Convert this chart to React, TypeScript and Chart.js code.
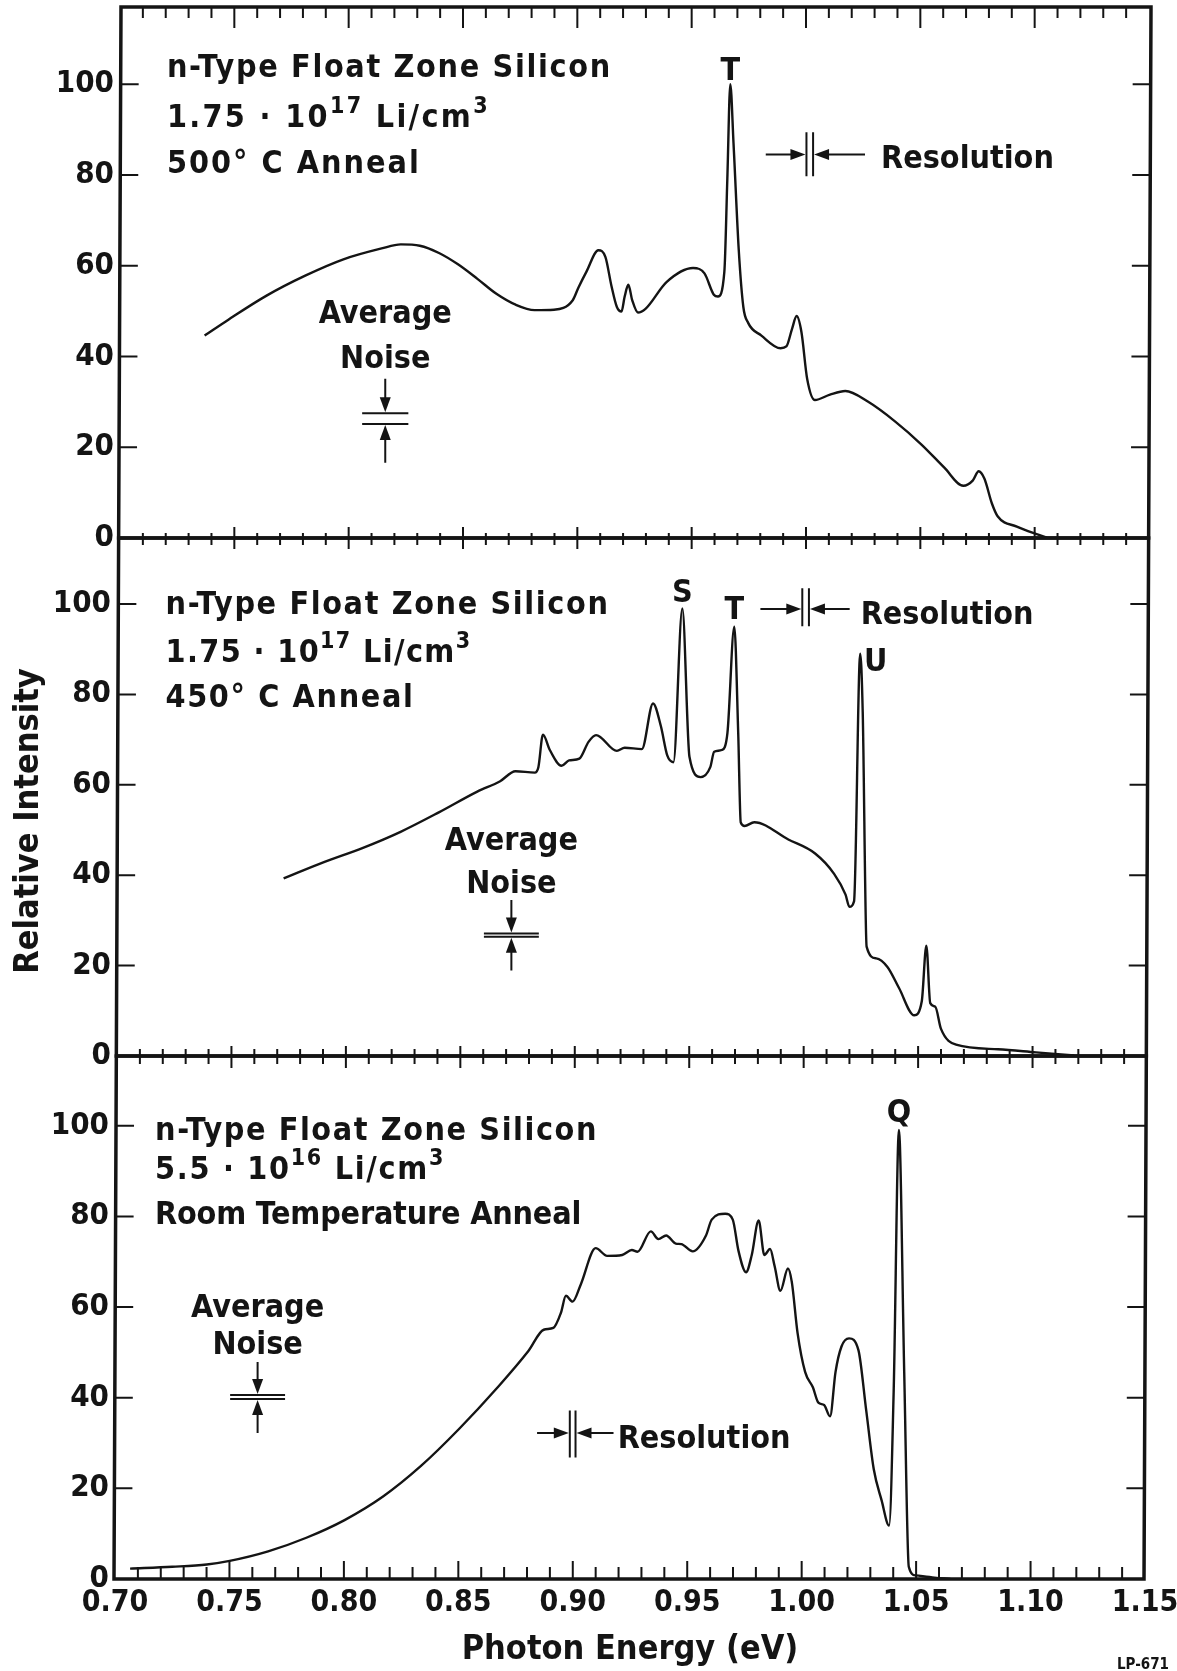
import { useEffect, useRef } from 'react';
import { Chart, registerables } from 'chart.js';

Chart.register(...registerables);

const FONT = "'DejaVu Sans Condensed', 'DejaVu Sans', sans-serif";
const WEIGHT = 'bold';
const INK = '#141414';

// ---- axes ----
const ENERGY_MIN = 0.7;
const ENERGY_MAX = 1.15;
const ENERGY_LABELS = [0.7, 0.75, 0.8, 0.85, 0.9, 0.95, 1.0, 1.05, 1.1, 1.15];
const INTENSITY_LABELS = [0, 20, 40, 60, 80, 100];

// ---- 1.75e17 Li/cm3, 500 °C anneal ----
const energy500 = [
  0.737, 0.7474, 0.7641, 0.781, 0.7977, 0.8144, 0.8228, 0.8311, 0.8395, 0.8478,
  0.8563, 0.8646, 0.873, 0.8813, 0.8898, 0.898, 0.9005, 0.904, 0.9092, 0.9123,
  0.9149, 0.9173, 0.9193, 0.9207, 0.9223, 0.924, 0.9265, 0.9298, 0.939, 0.9506,
  0.9556, 0.9597, 0.9615, 0.9643, 0.9656, 0.9669, 0.9683, 0.9706, 0.9726, 0.9747,
  0.9805, 0.9889, 0.9914, 0.9939, 0.9959, 0.998, 1.0005, 1.0039, 1.0105, 1.0172,
  1.0272, 1.0389, 1.0505, 1.0605, 1.0688, 1.073, 1.0755, 1.078, 1.0813, 1.0838,
  1.0922, 1.1005, 1.1054,
];
const intensity500 = [
  44.6, 48.1, 53.4, 57.8, 61.4, 63.8, 64.7, 64.4, 62.8, 60.3,
  57.1, 53.8, 51.4, 50.2, 50.3, 52.4, 55.2, 58.7, 63.4, 61.9,
  55.6, 50.9, 49.9, 53.2, 55.8, 52.4, 49.7, 50.5, 56.4, 59.5,
  58.3, 53.6, 53.2, 58.7, 79.2, 100, 87, 63.4, 50.9, 47.4,
  44.6, 41.8, 42.2, 46.1, 48.9, 45.4, 35.1, 30.4, 31.6, 32.4,
  30.0, 25.7, 20.6, 15.5, 11.5, 12.7, 14.7, 13.1, 7.6, 4.8,
  2.5, 0.9, 0.1,
];

// ---- 1.75e17 Li/cm3, 450 °C anneal ----
const energy450 = [
  0.7728, 0.7904, 0.8072, 0.8239, 0.8406, 0.8574, 0.8674, 0.8741, 0.8825, 0.8841,
  0.8861, 0.8891, 0.8942, 0.8975, 0.902, 0.906, 0.9093, 0.9184, 0.9218, 0.9293,
  0.9342, 0.9376, 0.9404, 0.9431, 0.947, 0.9501, 0.955, 0.9592, 0.9609, 0.9642,
  0.9667, 0.9697, 0.9714, 0.9725, 0.9742, 0.9784, 0.9933, 1.005, 1.0133, 1.0183,
  1.02, 1.022, 1.0247, 1.0258, 1.0275, 1.0317, 1.0366, 1.0416, 1.0483, 1.0516,
  1.0536, 1.0553, 1.0575, 1.06, 1.0666, 1.0849, 1.1015, 1.1182,
];
const intensity450 = [
  39.3, 42.9, 46.0, 49.6, 53.9, 58.5, 60.8, 63.0, 62.7, 63.9,
  71.1, 67.7, 64.2, 65.4, 65.8, 69.5, 71.0, 67.5, 68.2, 67.9,
  78.0, 73.0, 66.5, 65.0, 99.0, 66.2, 61.7, 63.9, 67.3, 67.7,
  71.5, 95.0, 71.5, 51.7, 50.9, 51.7, 47.9, 44.8, 40.3, 35.7,
  33.0, 34.2, 89.0, 76.1, 24.2, 21.6, 19.7, 15.1, 9.0, 12.1,
  24.4, 11.7, 10.9, 6.0, 2.5, 1.5, 0.8, 0.1,
];

// ---- 5.5e16 Li/cm3, room temperature anneal ----
const energyRT = [
  0.7066, 0.725, 0.7401, 0.7501, 0.7669, 0.7836, 0.8003, 0.8171, 0.8338, 0.8505,
  0.8672, 0.8806, 0.8873, 0.8915, 0.8948, 0.897, 0.8999, 0.9035, 0.91, 0.915,
  0.9216, 0.9258, 0.9283, 0.9341, 0.9374, 0.9408, 0.945, 0.9474, 0.9524, 0.9582,
  0.9607, 0.9666, 0.9699, 0.9724, 0.9757, 0.9782, 0.9812, 0.9837, 0.9862, 0.9882,
  0.9907, 0.994, 0.9957, 0.9982, 1.0015, 1.0049, 1.0073, 1.0098, 1.0124, 1.0148,
  1.0174, 1.0207, 1.0248, 1.0282, 1.0315, 1.0349, 1.0382, 1.0402, 1.0425, 1.0448,
  1.0468, 1.0498, 1.058, 1.065,
];
const intensityRT = [
  2.3, 2.7, 3.2, 4.0, 6.1, 9.1, 13.0, 18.2, 25.0, 33.2,
  42.3, 50.3, 55.0, 55.4, 58.7, 62.5, 61.2, 65.0, 73.0, 71.3,
  71.5, 72.6, 72.2, 76.7, 75.0, 75.8, 74.0, 73.9, 72.3, 75.8,
  79.3, 80.6, 79.3, 72.4, 67.7, 71.5, 79.1, 71.5, 72.8, 69.0,
  63.6, 68.5, 65.5, 54.3, 45.7, 42.3, 38.9, 38.4, 35.9, 45.7,
  51.3, 53.1, 50.5, 37.2, 24.2, 17.4, 11.8, 41.5, 99.1, 45.7,
  2.7, 0.8, 0.3, 0.0,
];

// ---- page layout ----
const FIG_W = 1177;
const FIG_H = 1671;
// the three frames share slightly slanted outer edges (page coordinates)
const EDGE = { yTop: 7, yBottom: 1579, leftTop: 121, leftBottom: 114, rightTop: 1151, rightBottom: 1144 };
const edgeAt = (a: number, b: number, y: number) => a + ((b - a) * (y - EDGE.yTop)) / (EDGE.yBottom - EDGE.yTop);
const edgeLeft = (y: number) => edgeAt(EDGE.leftTop, EDGE.leftBottom, y);
const edgeRight = (y: number) => edgeAt(EDGE.rightTop, EDGE.rightBottom, y);

type Run = { t: string; sup?: boolean };
type TextLine = { x: number; y: number; width: number; runs: Run[] };
type PeakLabel = { text: string; x: number; y: number };
type NoiseMark = { x: number; half: number; top: number; upper: number; lower: number; bottom: number; line1: number; line2: number };
type ResMark = { y: number; from: number; bar1: number; bar2: number; to: number; barTop: number; barBottom: number; textX: number; textY: number };
type FigText = { text: string; x: number; y: number; size: number; rotate?: boolean; align: CanvasTextAlign; weight: string };
type EdgeTicks = { minorUp: number; minorDown: number; majorUp: number; majorDown: number };

interface PanelSpec {
  canvasTop: number;
  canvasHeight: number;
  plotTop: number;
  plotBottom: number;
  yMax: number;
  energy: number[];
  intensity: number[];
  showEnergyAxis: boolean;
  topTicks: boolean;
  bottomTicks: EdgeTicks;
  text: TextLine[];
  peaks: PeakLabel[];
  noise: NoiseMark;
  resolution: ResMark;
  figText: FigText[];
}

const concentration = (mantissa: string, exp: string): Run[] => [
  { t: `${mantissa} · 10` },
  { t: exp, sup: true },
  { t: ' Li/cm' },
  { t: '3', sup: true },
];

const PANELS: PanelSpec[] = [
  {
    canvasTop: 0,
    canvasHeight: 570,
    plotTop: 7,
    plotBottom: 538,
    yMax: 117,
    energy: energy500,
    intensity: intensity500,
    showEnergyAxis: false,
    topTicks: true,
    bottomTicks: { minorUp: 5, minorDown: 7, majorUp: 11, majorDown: 11 },
    text: [
      { x: 0.7205, y: 101.6, width: 445, runs: [{ t: 'n-Type Float Zone Silicon' }] },
      { x: 0.7205, y: 90.6, width: 323, runs: concentration('1.75', '17') },
      { x: 0.7205, y: 80.4, width: 254, runs: [{ t: '500° C Anneal' }] },
    ],
    peaks: [{ text: 'T', x: 0.9669, y: 100.9 }],
    noise: { x: 0.816, half: 0.0101, top: 35.1, upper: 27.5, lower: 25.1, bottom: 16.6, line1: 47.4, line2: 37.4 },
    resolution: { y: 84.5, from: 0.9824, bar1: 1.0002, bar2: 1.0031, to: 1.0258, barTop: 89.4, barBottom: 79.7, textX: 1.0328, textY: 81.5 },
    figText: [],
  },
  {
    canvasTop: 520,
    canvasHeight: 560,
    plotTop: 538,
    plotBottom: 1056,
    yMax: 114.6,
    energy: energy450,
    intensity: intensity450,
    showEnergyAxis: false,
    topTicks: false,
    bottomTicks: { minorUp: 7, minorDown: 8, majorUp: 10, majorDown: 12 },
    text: [
      { x: 0.7212, y: 97.8, width: 444, runs: [{ t: 'n-Type Float Zone Silicon' }] },
      { x: 0.7212, y: 87.1, width: 306, runs: concentration('1.75', '17') },
      { x: 0.7212, y: 77.2, width: 249, runs: [{ t: '450° C Anneal' }] },
    ],
    peaks: [
      { text: 'S', x: 0.947, y: 100.4 },
      { text: 'T', x: 0.9697, y: 96.7 },
      { text: 'U', x: 1.0315, y: 85.2 },
    ],
    noise: { x: 0.8723, half: 0.012, top: 34.5, upper: 27.1, lower: 26.4, bottom: 18.9, line1: 45.6, line2: 36.1 },
    resolution: { y: 98.9, from: 0.9811, bar1: 0.9994, bar2: 1.0023, to: 1.0201, barTop: 103.5, barBottom: 95.1, textX: 1.0249, textY: 95.6 },
    figText: [{ text: 'Relative Intensity', x: 38, y: 821, size: 34, rotate: true, align: 'center', weight: WEIGHT }],
  },
  {
    canvasTop: 1040,
    canvasHeight: 631,
    plotTop: 1056,
    plotBottom: 1579,
    yMax: 115.4,
    energy: energyRT,
    intensity: intensityRT,
    showEnergyAxis: true,
    topTicks: false,
    bottomTicks: { minorUp: 12, minorDown: 0, majorUp: 18, majorDown: 0 },
    text: [
      { x: 0.7175, y: 96.9, width: 443, runs: [{ t: 'n-Type Float Zone Silicon' }] },
      { x: 0.7175, y: 88.3, width: 290, runs: concentration('5.5', '16') },
      { x: 0.7175, y: 78.4, width: 426, runs: [{ t: 'Room Temperature Anneal' }] },
    ],
    peaks: [{ text: 'Q', x: 1.0425, y: 100.9 }],
    noise: { x: 0.7623, half: 0.012, top: 47.9, upper: 40.6, lower: 39.7, bottom: 32.2, line1: 57.8, line2: 49.7 },
    resolution: { y: 32.2, from: 0.8844, bar1: 0.8987, bar2: 0.9012, to: 0.9178, barTop: 37.2, barBottom: 26.8, textX: 0.9196, textY: 28.9 },
    figText: [{ text: 'LP-671', x: 1143, y: 1669, size: 15, align: 'center', weight: 'bold' }],
  },
];

const font = (size: number, weight = WEIGHT) => `${weight} ${size}px ${FONT}`;

function arrowHead(ctx: CanvasRenderingContext2D, tipX: number, tipY: number, dx: number, dy: number, len = 15, half = 5.5) {
  const bx = tipX - dx * len;
  const by = tipY - dy * len;
  ctx.beginPath();
  ctx.moveTo(tipX, tipY);
  ctx.lineTo(bx - dy * half, by + dx * half);
  ctx.lineTo(bx + dy * half, by - dx * half);
  ctx.closePath();
  ctx.fill();
}

// Draws a line of mixed normal/superscript text, spread to the given width.
function drawRuns(ctx: CanvasRenderingContext2D, x0: number, y: number, runs: Run[], width: number) {
  const c = ctx as any;
  c.letterSpacing = '0px';
  let natural = 0;
  let chars = 0;
  for (const run of runs) {
    ctx.font = font(run.sup ? 23 : 32);
    natural += ctx.measureText(run.t).width;
    chars += run.t.length;
  }
  const spacing = Math.max(-1, (width - natural) / chars);
  let x = x0;
  for (const run of runs) {
    ctx.font = font(run.sup ? 23 : 32);
    c.letterSpacing = '0px';
    const w = ctx.measureText(run.t).width + spacing * run.t.length;
    c.letterSpacing = `${spacing}px`;
    ctx.fillText(run.t, x, run.sup ? y - 14 : y);
    x += w;
  }
  c.letterSpacing = '0px';
}

function makeDecor(p: PanelSpec) {
  return {
    id: 'decor',
    afterDraw(chart: any) {
      const { ctx, chartArea: a } = chart;
      const xs = chart.scales.x;
      const ys = chart.scales.y;
      const X = (e: number) => xs.getPixelForValue(e);
      const Y = (v: number) => ys.getPixelForValue(v);
      const L = (y: number) => edgeLeft(y + p.canvasTop);
      const R = (y: number) => edgeRight(y + p.canvasTop);
      ctx.save();
      ctx.strokeStyle = INK;
      ctx.fillStyle = INK;
      ctx.lineCap = 'butt';

      // energy ticks: every 0.01 eV, longer every 0.05 eV
      ctx.lineWidth = 2;
      ctx.beginPath();
      const steps = Math.round((ENERGY_MAX - ENERGY_MIN) / 0.01);
      for (let k = 1; k < steps; k++) {
        const x = X(ENERGY_MIN + k * 0.01);
        const major = k % 5 === 0;
        if (p.topTicks) {
          ctx.moveTo(x, a.top);
          ctx.lineTo(x, a.top + (major ? 21 : 11));
        }
        const t = p.bottomTicks;
        ctx.moveTo(x, a.bottom - (major ? t.majorUp : t.minorUp));
        ctx.lineTo(x, a.bottom + (major ? t.majorDown : t.minorDown));
      }
      // intensity ticks on both vertical edges
      for (const v of INTENSITY_LABELS) {
        if (v === 0) continue;
        const y = Y(v);
        ctx.moveTo(L(y), y);
        ctx.lineTo(L(y) + 18, y);
        ctx.moveTo(R(y), y);
        ctx.lineTo(R(y) - 18, y);
      }
      ctx.stroke();

      // frame
      ctx.lineWidth = 3.5;
      ctx.lineJoin = 'miter';
      ctx.beginPath();
      ctx.moveTo(L(a.top), a.top);
      ctx.lineTo(R(a.top), a.top);
      ctx.lineTo(R(a.bottom), a.bottom);
      ctx.lineTo(L(a.bottom), a.bottom);
      ctx.closePath();
      ctx.stroke();

      // sample description
      ctx.textAlign = 'left';
      ctx.textBaseline = 'alphabetic';
      for (const line of p.text) drawRuns(ctx, X(line.x), Y(line.y), line.runs, line.width);

      // peak names
      ctx.font = font(32);
      ctx.textAlign = 'center';
      for (const pk of p.peaks) ctx.fillText(pk.text, X(pk.x), Y(pk.y));

      // average noise marker
      const n = p.noise;
      const nx = X(n.x);
      ctx.fillText('Average', nx, Y(n.line1));
      ctx.fillText('Noise', nx, Y(n.line2));
      const yu = Y(n.upper);
      const yl = Y(n.lower);
      ctx.lineWidth = 2;
      ctx.beginPath();
      ctx.moveTo(nx, Y(n.top));
      ctx.lineTo(nx, yu - 10);
      ctx.moveTo(nx, yl + 10);
      ctx.lineTo(nx, Y(n.bottom));
      ctx.moveTo(X(n.x - n.half), yu);
      ctx.lineTo(X(n.x + n.half), yu);
      ctx.moveTo(X(n.x - n.half), yl);
      ctx.lineTo(X(n.x + n.half), yl);
      ctx.stroke();
      arrowHead(ctx, nx, yu - 1, 0, 1);
      arrowHead(ctx, nx, yl + 1, 0, -1);

      // spectral resolution marker
      const r = p.resolution;
      const ry = Y(r.y);
      const b1 = X(r.bar1);
      const b2 = X(r.bar2);
      ctx.beginPath();
      ctx.moveTo(X(r.from), ry);
      ctx.lineTo(b1 - 8, ry);
      ctx.moveTo(b2 + 8, ry);
      ctx.lineTo(X(r.to), ry);
      ctx.moveTo(b1, Y(r.barTop));
      ctx.lineTo(b1, Y(r.barBottom));
      ctx.moveTo(b2, Y(r.barTop));
      ctx.lineTo(b2, Y(r.barBottom));
      ctx.stroke();
      arrowHead(ctx, b1 - 1, ry, 1, 0);
      arrowHead(ctx, b2 + 1, ry, -1, 0);
      ctx.textAlign = 'left';
      ctx.fillText('Resolution', X(r.textX), Y(r.textY));

      // figure-level captions
      for (const f of p.figText) {
        ctx.font = font(f.size, f.weight);
        ctx.textAlign = f.align;
        const y = f.y - p.canvasTop;
        if (f.rotate) {
          ctx.save();
          ctx.translate(f.x, y);
          ctx.rotate(-Math.PI / 2);
          ctx.fillText(f.text, 0, 0);
          ctx.restore();
        } else {
          ctx.fillText(f.text, f.x, y);
        }
      }
      ctx.restore();
    },
  };
}

function SpectrumPanel({ spec }: { spec: PanelSpec }) {
  const ref = useRef<HTMLCanvasElement>(null);

  useEffect(() => {
    const canvas = ref.current;
    if (!canvas) return;
    const mid = (spec.plotTop + spec.plotBottom) / 2;
    const plotLeft = Math.round(edgeLeft(mid));
    const plotRight = Math.floor(edgeRight(mid));
    const axisBand = spec.showEnergyAxis ? spec.canvasTop + spec.canvasHeight - spec.plotBottom : 0;
    const chart = new Chart(canvas, {
      type: 'line',
      data: {
        datasets: [
          {
            data: spec.energy.map((e, i) => ({ x: e, y: spec.intensity[i] })),
            borderColor: INK,
            borderWidth: 2.4,
            pointRadius: 0,
            fill: false,
            cubicInterpolationMode: 'monotone',
          },
        ],
      },
      options: {
        responsive: false,
        animation: false,
        devicePixelRatio: 1,
        events: [],
        layout: {
          padding: {
            left: 0,
            right: FIG_W - plotRight,
            top: spec.plotTop - spec.canvasTop,
            bottom: spec.showEnergyAxis ? 0 : spec.canvasTop + spec.canvasHeight - spec.plotBottom,
          },
        },
        plugins: { legend: { display: false }, tooltip: { enabled: false } },
        scales: {
          x: {
            type: 'linear',
            min: ENERGY_MIN,
            max: ENERGY_MAX,
            grid: { display: false, drawTicks: false },
            border: { display: false },
            ticks: {
              display: spec.showEnergyAxis,
              padding: 6,
              autoSkip: false,
              maxRotation: 0,
              color: INK,
              font: { family: FONT, size: 30, weight: WEIGHT },
              callback: (v: any) => Number(v).toFixed(2),
            },
            title: {
              display: spec.showEnergyAxis,
              text: 'Photon Energy (eV)',
              color: INK,
              font: { family: FONT, size: 34, weight: WEIGHT },
              padding: { top: 0, bottom: 0 },
            },
            afterBuildTicks: (s: any) => {
              s.ticks = ENERGY_LABELS.map((value) => ({ value }));
            },
            afterFit: (s: any) => {
              s.paddingLeft = 0;
              s.paddingRight = 0;
              s.height = axisBand;
            },
          },
          y: {
            type: 'linear',
            min: 0,
            max: spec.yMax,
            grid: { display: false, drawTicks: false },
            border: { display: false },
            ticks: {
              padding: 6,
              color: INK,
              font: { family: FONT, size: 31, weight: WEIGHT },
              callback: (v: any) => String(v),
            },
            afterBuildTicks: (s: any) => {
              s.ticks = INTENSITY_LABELS.map((value) => ({ value }));
            },
            afterFit: (s: any) => {
              s.width = plotLeft;
              s.paddingTop = 0;
              s.paddingBottom = 0;
            },
          },
        },
      } as any,
      plugins: [makeDecor(spec)],
    });
    return () => chart.destroy();
  }, [spec]);

  return (
    <canvas
      ref={ref}
      width={FIG_W}
      height={spec.canvasHeight}
      style={{ position: 'absolute', left: 0, top: spec.canvasTop, width: FIG_W, height: spec.canvasHeight, display: 'block' }}
    />
  );
}

export default function App() {
  return (
    <div style={{ position: 'absolute', left: 0, top: 0, width: FIG_W, height: FIG_H, background: '#fff', overflow: 'hidden' }}>
      {PANELS.map((p, i) => (
        <SpectrumPanel key={i} spec={p} />
      ))}
    </div>
  );
}
